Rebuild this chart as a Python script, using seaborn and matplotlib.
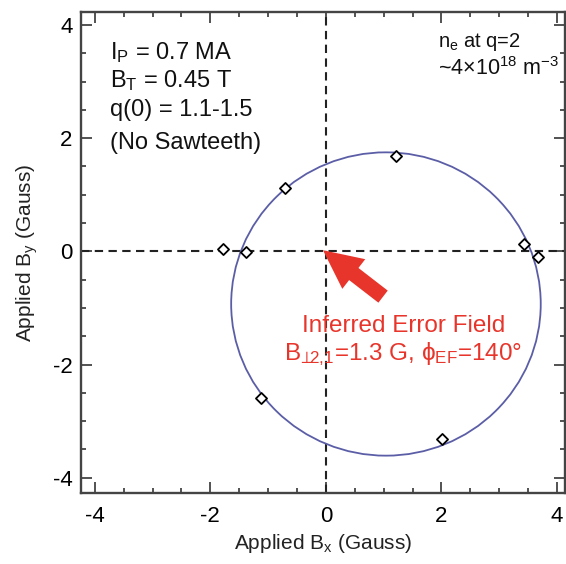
import numpy as np
import pandas as pd
import matplotlib
matplotlib.use("Agg")
import matplotlib.pyplot as plt
from matplotlib.patches import Circle, FancyArrowPatch
from matplotlib.ticker import MultipleLocator
import seaborn as sns

# Applied field scan (Gauss) where the locked mode was observed
applied_bx = [-1.78, -1.39, -0.71, 1.22, 3.43, 3.67, -1.12, 2.01]
applied_by = [0.04, -0.01, 1.12, 1.69, 0.13, -0.10, -2.59, -3.32]

# Fitted locking threshold circle (centre and radius in Gauss)
circle_center = (1.04, -0.93)
circle_radius = 2.68

# Arrow from the label toward the origin
arrow_tail = (0.99, -0.80)
arrow_head = (-0.05, 0.02)

x_ticks = [-4, -2, 0, 2, 4]
y_ticks = [-4, -2, 0, 2, 4]

params_text = [r"I$_\mathregular{P}$ = 0.7 MA",
               r"B$_\mathregular{T}$ = 0.45 T",
               "q(0) = 1.1-1.5",
               "(No Sawteeth)"]
density_text = [r"n$_\mathregular{e}$ at q=2",
                r"~4×10$^{\mathregular{18}}$ m$^{\mathregular{-3}}$"]
ef_text = ["Inferred Error Field",
           r"B$_{\mathregular{⊥}\!\mathregular{2,}\!\mathregular{1}}$=1.3 G, ϕ$_\mathregular{EF}$=140°"]

sns.set_theme(style="ticks")
plt.rcParams["font.family"] = ["Liberation Sans", "DejaVu Sans"]
plt.rcParams["mathtext.default"] = "regular"

red = "#e8352b"
spine_col = "#444444"

fig = plt.figure(figsize=(5.66, 5.64), dpi=100)
ax = fig.add_axes([81 / 566, 1 - 493 / 564, 484 / 566, 481 / 564])

df = pd.DataFrame({"Bx": applied_bx, "By": applied_by})

ax.axhline(0, color="#222222", lw=1.5, ls=(0, (4, 2.6)), zorder=1)
ax.axvline(0, color="#222222", lw=1.5, ls=(0, (4, 2.6)), zorder=1)

ax.add_patch(Circle(circle_center, circle_radius, fill=False,
                    edgecolor="#5b5ea6", lw=1.3, zorder=2))

sns.scatterplot(data=df, x="Bx", y="By", marker="D", s=32,
                facecolor="white", edgecolor="black", linewidth=1.3,
                ax=ax, zorder=3)

ax.add_patch(FancyArrowPatch(arrow_tail, arrow_head,
                             arrowstyle="simple,head_length=2.8,head_width=2.7,tail_width=1.1",
                             mutation_scale=10, color=red, lw=0,
                             shrinkA=0, shrinkB=0, zorder=4))

ax.set_xlim(-4.24, 4.14)
ax.set_ylim(-4.27, 4.23)
ax.set_xticks(x_ticks)
ax.set_yticks(y_ticks)
ax.set_xticklabels([str(v) for v in x_ticks])
ax.set_yticklabels([str(v) for v in y_ticks])
ax.xaxis.set_minor_locator(MultipleLocator(0.5))
ax.yaxis.set_minor_locator(MultipleLocator(0.5))
ax.tick_params(which="both", direction="in", top=True, right=True,
               color=spine_col, width=1.3, labelsize=16, labelcolor="black")
ax.tick_params(which="major", length=8)
ax.tick_params(which="minor", length=3.5)
ax.tick_params(axis="x", pad=9)
ax.tick_params(axis="y", pad=6)
for s in ax.spines.values():
    s.set_color(spine_col)
    s.set_linewidth(1.7)

ax.set_xlabel(r"Applied B$_\mathregular{x}$ (Gauss)", fontsize=15, color="#222222", labelpad=4)
ax.set_ylabel(r"Applied B$_\mathregular{y}$ (Gauss)", fontsize=15, color="#222222", labelpad=9)

for txt, yb in zip(params_text, [3.40, 2.90, 2.39, 1.81]):
    ax.text(-3.74, yb, txt, fontsize=17, va="baseline", ha="left", color="#111111")
for txt, yb, fs in zip(density_text, [3.61, 3.12], [14.5, 15.5]):
    ax.text(1.94, yb, txt, fontsize=fs, va="baseline", ha="left", color="#111111")
for txt, yb in zip(ef_text, [-1.42, -1.92]):
    ax.text(1.34, yb, txt, fontsize=17.5, va="baseline", ha="center", color=red)

fig.savefig("out.png", dpi=100)
